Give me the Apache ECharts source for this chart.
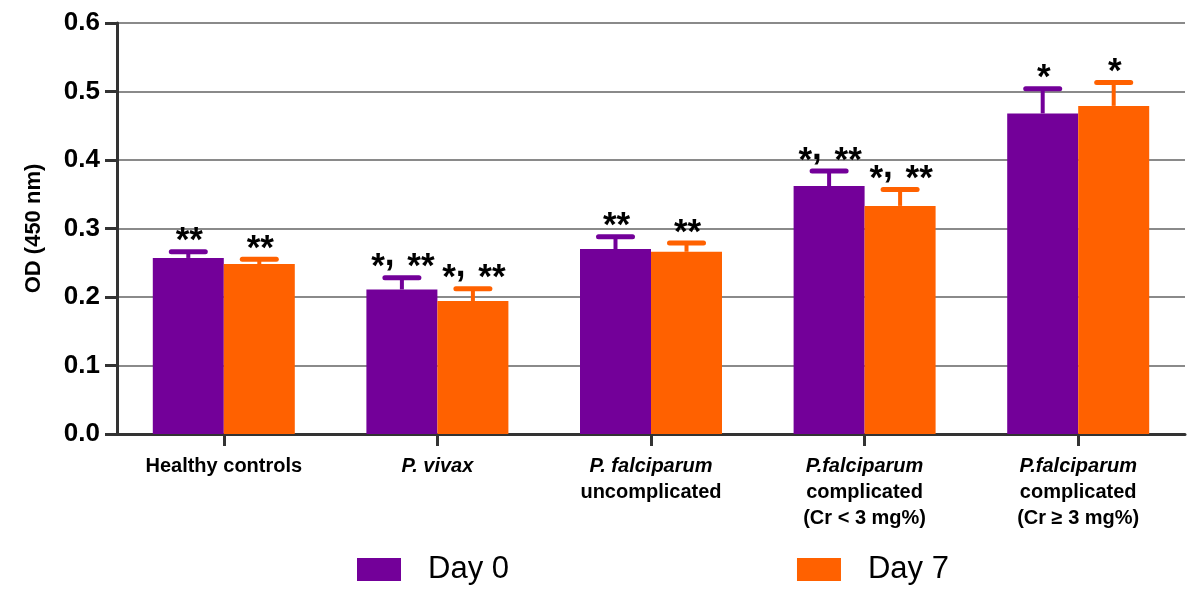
<!DOCTYPE html>
<html>
<head>
<meta charset="utf-8">
<script src="https://cdn.jsdelivr.net/npm/echarts@6/dist/echarts.min.js"></script>
<style>
html,body{margin:0;padding:0;background:#fff;}
#chart{width:1200px;height:597px;}
</style>
</head>
<body>
<div id="chart"></div>
<script>
// ---- data ----
const categories = [
  'Healthy controls',
  'P. vivax',
  'P. falciparum\nuncomplicated',
  'P.falciparum\ncomplicated\n(Cr < 3 mg%)',
  'P.falciparum\ncomplicated\n(Cr ≥ 3 mg%)'
];
const seriesNames = ['Day 0', 'Day 7'];
const day0 = [0.257, 0.211, 0.270, 0.362, 0.468];
const day0Err = [0.009, 0.017, 0.018, 0.022, 0.036];
const day7 = [0.248, 0.194, 0.266, 0.333, 0.479];
const day7Err = [0.007, 0.018, 0.013, 0.024, 0.034];
const day0Sig = ['**', '*, **', '**', '*, **', '*'];
const day7Sig = ['**', '*, **', '**', '*, **', '*'];
const yTicks = [0, 0.1, 0.2, 0.3, 0.4, 0.5, 0.6];

// ---- style ----
const FONT = "'Liberation Sans', Arial, Helvetica, sans-serif";
const SIG_FONT_SIZE = 35;
const PURPLE = '#730099';
const ORANGE = '#FF6100';
const BAR_W = 71;

const measureCtx = document.createElement('canvas').getContext('2d');
measureCtx.font = 'bold ' + SIG_FONT_SIZE + 'px ' + FONT;

// lay out significance marks char by char; commas are raised to sit beside the stars
function sigElements(s, cx, cy) {
  const chars = Array.from(s);
  const widths = chars.map(ch => measureCtx.measureText(ch).width + (ch === ' ' ? 3 : 0));
  const total = widths.reduce((a, b) => a + b, 0);
  let cur = cx - total / 2;
  const out = [];
  chars.forEach((ch, k) => {
    if (ch !== ' ') {
      out.push({
        type: 'text', x: cur, y: ch === ',' ? cy - 12 : cy,
        style: { text: ch, fontSize: SIG_FONT_SIZE, fontWeight: 'bold', fontFamily: FONT, fill: '#000', align: 'left', verticalAlign: 'middle' }
      });
    }
    cur += widths[k];
  });
  return out;
}

function errSeries(vals, errs, sigs, color, offset) {
  return {
    type: 'custom',
    z: 5,
    silent: true,
    data: vals.map((v, i) => [i, v, errs[i]]),
    encode: { x: 0, y: 1 },
    renderItem: function (params, api) {
      const i = api.value(0), v = api.value(1), e = api.value(2);
      const p0 = api.coord([i, v]);
      const p1 = api.coord([i, v + e]);
      const x = p0[0] + offset;
      return {
        type: 'group',
        children: [
          { type: 'line', shape: { x1: x, y1: p0[1], x2: x, y2: p1[1] }, style: { stroke: color, lineWidth: 4 } },
          { type: 'line', shape: { x1: x - 17, y1: p1[1], x2: x + 17, y2: p1[1] }, style: { stroke: color, lineWidth: 5, lineCap: 'round' } }
        ].concat(sigElements(sigs[i], x + 1, p1[1] - 10))
      };
    }
  };
}

const chart = echarts.init(document.getElementById('chart'));
chart.setOption({
  animation: false,
  backgroundColor: '#fff',
  grid: { left: 117, right: 15, top: 23, bottom: 163, containLabel: false },
  legend: {
    data: seriesNames,
    left: 352, top: 549,
    itemWidth: 44, itemHeight: 23, itemGap: 288,
    icon: 'rect',
    textStyle: { fontSize: 31, fontFamily: FONT, color: '#000', padding: [0, 0, 0, 22] }
  },
  xAxis: {
    type: 'category',
    data: categories,
    axisLine: { lineStyle: { color: '#333', width: 3 } },
    axisTick: { show: true, alignWithLabel: true, length: 12, lineStyle: { color: '#333', width: 3 } },
    axisLabel: {
      interval: 0, margin: 19, color: '#000',
      formatter: function (val) {
        return val.split('\n').map((ln, k) => (k === 0 && ln.indexOf('P.') === 0) ? '{i|' + ln + '}' : '{n|' + ln + '}').join('\n');
      },
      rich: {
        i: { fontSize: 20, fontWeight: 'bold', fontStyle: 'italic', fontFamily: FONT, lineHeight: 26, color: '#000' },
        n: { fontSize: 20, fontWeight: 'bold', fontFamily: FONT, lineHeight: 26, color: '#000' }
      }
    }
  },
  yAxis: {
    type: 'value',
    min: yTicks[0], max: yTicks[yTicks.length - 1], interval: 0.1,
    name: 'OD (450 nm)',
    nameLocation: 'middle', nameGap: 72,
    nameTextStyle: { fontSize: 22, fontWeight: 'bold', fontFamily: FONT, color: '#000' },
    axisLine: { show: true, lineStyle: { color: '#333', width: 3 } },
    axisTick: { show: true, length: 12, lineStyle: { color: '#333', width: 3 } },
    axisLabel: { fontSize: 26, fontWeight: 'bold', fontFamily: FONT, color: '#000', margin: 17,
      formatter: v => v.toFixed(1) },
    splitLine: { show: true, lineStyle: { color: '#8a8a8a', width: 2 } }
  },
  series: [
    { name: seriesNames[0], type: 'bar', data: day0, barWidth: BAR_W, barGap: '0%', itemStyle: { color: PURPLE } },
    { name: seriesNames[1], type: 'bar', data: day7, barWidth: BAR_W, barGap: '0%', itemStyle: { color: ORANGE } },
    errSeries(day0, day0Err, day0Sig, PURPLE, -BAR_W / 2),
    errSeries(day7, day7Err, day7Sig, ORANGE, BAR_W / 2)
  ]
});
</script>
</body>
</html>
